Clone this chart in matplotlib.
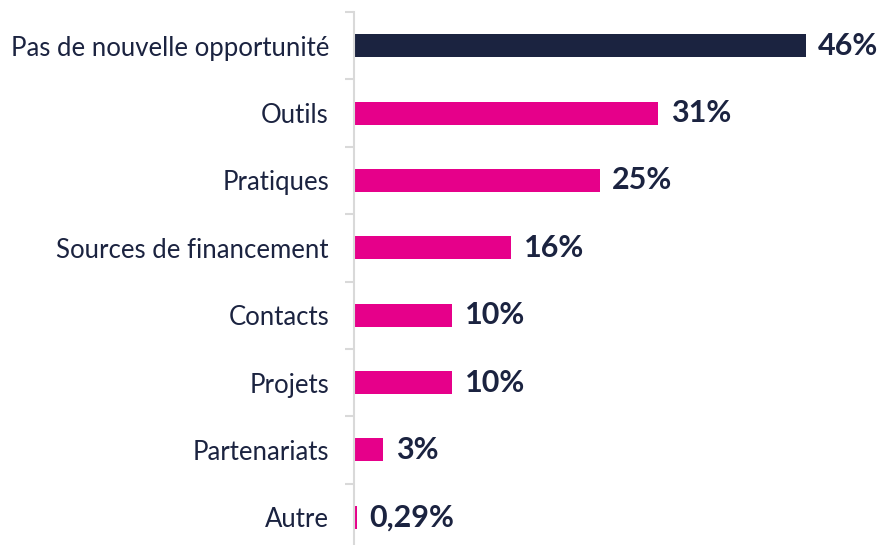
import numpy as np
import matplotlib
matplotlib.use("Agg")
import matplotlib.pyplot as plt

categories = ["Pas de nouvelle opportunité", "Outils", "Pratiques",
              "Sources de financement", "Contacts", "Projets",
              "Partenariats", "Autre"]
values = [46, 31, 25, 16, 10, 10, 3, 0.29]
labels = ["46%", "31%", "25%", "16%", "10%", "10%", "3%", "0,29%"]

navy = "#1b2340"
pink = "#e6008a"
grey = "#d9d9d9"

plt.rcParams["font.family"] = ["Lato", "DejaVu Sans"]

fig = plt.figure(figsize=(8.81, 5.45), dpi=100)
# axis spans from the top tick (y=12px) to just below the image
ax = fig.add_axes([354 / 881, (545 - 551) / 545, (881 - 354) / 881, 539 / 545])

pos = np.arange(len(categories))
colors = [navy] + [pink] * (len(categories) - 1)
ax.barh(pos, values, height=0.34, color=colors)

for p, v, lab in zip(pos, values, labels):
    ax.annotate(lab, (v, p), xytext=(9, 0), textcoords="offset points",
                va="center", ha="left", fontsize=22, fontweight="bold", color=navy)

ax.set_xlim(0, 53.66)
ax.set_ylim(len(categories) - 0.5, -0.5)

ax.set_yticks(pos)
ax.set_yticklabels(categories, fontsize=18.5, color=navy)
ax.tick_params(axis="y", which="major", length=0, pad=18)
ax.set_yticks(np.arange(len(categories) + 1) - 0.5, minor=True)
ax.tick_params(axis="y", which="minor", length=6.5, width=1.5, color=grey)
ax.set_xticks([])

for s in ["top", "right", "bottom"]:
    ax.spines[s].set_visible(False)
ax.spines["left"].set_color(grey)
ax.spines["left"].set_linewidth(1.5)

fig.savefig("out.png", dpi=100)
